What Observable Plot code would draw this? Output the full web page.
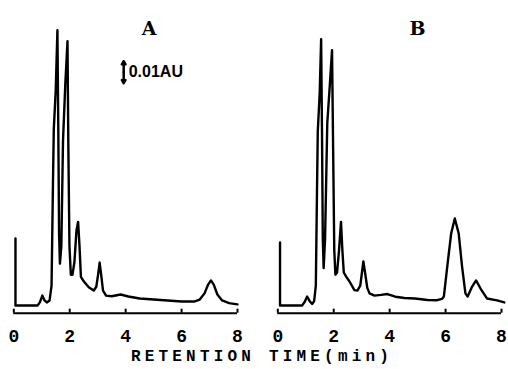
<!DOCTYPE html>
<html><head><meta charset="utf-8">
<script src="https://cdn.jsdelivr.net/npm/d3@7"></script>
<script src="https://cdn.jsdelivr.net/npm/@observablehq/plot@0.6"></script>
<style>
body{margin:0;background:#fff;}
#chart{width:508px;height:369px;position:relative;overflow:hidden;}
#chart svg{position:absolute;left:0;top:0;}
#title{position:absolute;left:0;top:348px;width:508px;text-align:center;padding-left:16px;box-sizing:border-box;font:bold 16px "Liberation Mono",monospace;letter-spacing:4.2px;line-height:18px;color:#000;}
</style></head><body><div id="chart"><div id="title"></div></div>
<script>
const panels = ["A", "B"];
// absorbance traces, [retention time (min), absorbance (mAU)]
const traceA = [
[0.06,30.5],[0.06,0],[0.85,0],[0.93,1.4],[1.02,4.5],[1.10,2.3],[1.18,1.4],[1.28,2.3],[1.35,9],[1.40,55],[1.43,80],[1.50,98],[1.56,125],[1.59,82],[1.62,32],[1.65,19],[1.70,27],[1.76,75],[1.84,100],[1.92,120],[1.95,73],[1.99,27],[2.04,14],[2.10,14],[2.17,20],[2.24,34],[2.30,38],[2.35,27],[2.40,13],[2.50,11],[2.68,8.3],[2.86,6.8],[2.95,8.5],[3.02,14.5],[3.07,19.5],[3.12,14.5],[3.19,6.8],[3.30,4.5],[3.50,4.2],[3.82,5],[4.10,4.1],[4.50,3.2],[5.00,2.7],[5.50,2.3],[6.00,1.8],[6.45,1.8],[6.65,2.7],[6.82,5.5],[6.95,9.5],[7.05,11.4],[7.15,9.5],[7.28,5],[7.45,2.3],[7.70,1.1],[8.00,0.5]
];
const traceB = [
[0.08,28.6],[0.08,0],[0.87,0],[0.95,1.4],[1.05,4.1],[1.14,2],[1.23,0.7],[1.30,2],[1.36,9],[1.40,50],[1.43,79],[1.50,97],[1.55,121],[1.58,80],[1.61,30],[1.64,17],[1.69,30],[1.77,83],[1.86,100],[1.94,116],[1.98,70],[2.02,25],[2.06,14],[2.12,15],[2.19,25],[2.26,38],[2.31,25],[2.36,15],[2.45,13],[2.56,11],[2.74,7],[2.85,6.8],[2.95,9],[3.01,15],[3.06,20],[3.12,15],[3.20,8],[3.28,5.5],[3.46,4.5],[3.69,4.8],[3.92,5.2],[4.20,4],[4.53,3.4],[4.90,3.2],[5.36,2.5],[5.70,2.4],[5.87,3],[5.94,4.1],[6.06,17.7],[6.20,32.7],[6.33,39.5],[6.47,32.7],[6.59,17.7],[6.71,5.5],[6.79,4.1],[6.95,8.6],[7.09,11.4],[7.25,7.7],[7.48,3.2],[7.84,2.3],[8.10,1.4]
];
const xTicks = [0, 2, 4, 6, 8];
const panelLabels = [{panel: "A", t: 4.84, label: "A"}, {panel: "B", t: 5.0, label: "B"}];
const scaleBar = [{panel: "A", t: 3.93, lo: 101, hi: 111, label: "0.01AU"}];
const xLabel = "RETENTION TIME(min)";
const yDomain = [-3.5, 134];

const rows = [
  ...traceA.map(([t, v]) => ({panel: "A", t, v})),
  ...traceB.map(([t, v]) => ({panel: "B", t, v}))
];
const mid = d => (d.lo + d.hi) / 2;
const mono = "Liberation Mono, monospace";

const chart = Plot.plot({
  width: 508, height: 346,
  marginLeft: 13.3, marginRight: 7, marginTop: 10, marginBottom: 33.3,
  style: {background: "transparent", color: "black", overflow: "visible"},
  fx: {domain: panels, paddingInner: 0.1526, paddingOuter: 0, round: false, axis: null, label: null},
  x: {domain: [0, 8], ticks: xTicks, label: null},
  y: {domain: yDomain, axis: null},
  marks: [
    Plot.ruleY([yDomain[0]], {strokeWidth: 2}),
    Plot.axisX(xTicks, {tickSize: 4, dy: -4, strokeWidth: 2, tickFormat: () => "", label: null}),
    Plot.axisX(xTicks, {tickSize: 0, tickPadding: 16, fontSize: 18, fontWeight: "bold", fontFamily: mono, label: null}),
    Plot.line(rows, {x: "t", y: "v", fx: "panel", stroke: "black", strokeWidth: 2.4, strokeLinejoin: "round"}),
    Plot.text(panelLabels, {x: "t", fx: "panel", text: "label", frameAnchor: "top", dy: 11, fontSize: 19, fontWeight: "bold", fontFamily: "DejaVu Serif"}),
    Plot.arrow(scaleBar, {x: "t", y1: mid, y2: "hi", fx: "panel", headLength: 6, strokeWidth: 2.5}),
    Plot.arrow(scaleBar, {x: "t", y1: mid, y2: "lo", fx: "panel", headLength: 6, strokeWidth: 2.5}),
    Plot.text(scaleBar, {x: "t", y: mid, fx: "panel", text: "label", textAnchor: "start", dx: 5, fontSize: 16, fontWeight: "bold", fontFamily: "Liberation Sans Narrow, Liberation Sans"})
  ]
});
document.getElementById("chart").prepend(chart);
document.getElementById("title").textContent = xLabel;
</script></body></html>
